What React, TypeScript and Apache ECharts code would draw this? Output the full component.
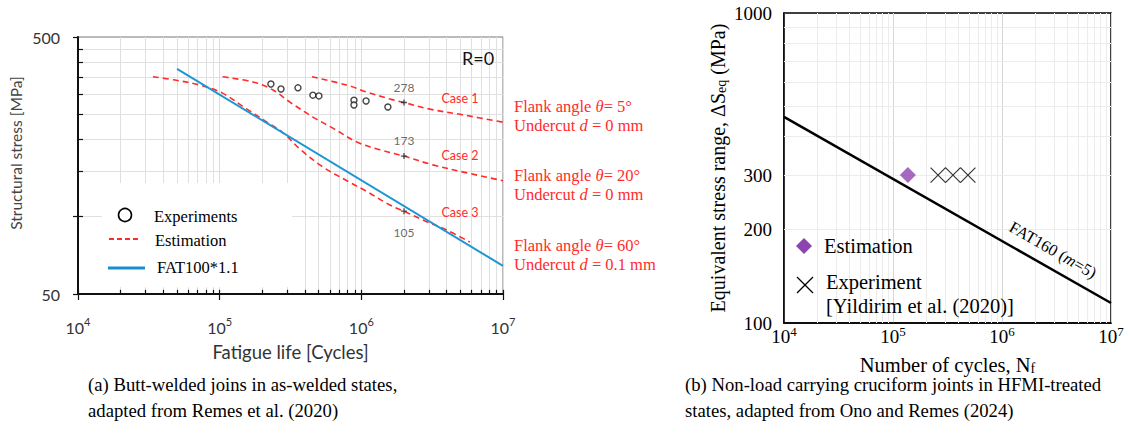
import React, { useEffect, useRef } from 'react';
import * as echarts from 'echarts';

// ---------- data (left panel: butt-welded joints) ----------
const case1: number[][] = [[4.48e5, 350], [7.9e5, 325], [1.1e6, 305], [1.59e6, 287], [2e6, 278], [3.05e6, 262], [5.2e6, 249], [1e7, 233]];
const case2: number[][] = [[1.05e5, 350], [1.72e5, 334], [2.38e5, 311], [3.13e5, 279], [4.55e5, 244], [6.3e5, 221], [9.3e5, 195], [1.35e6, 182], [2e6, 172], [3.2e6, 159], [5.56e6, 148], [1e7, 138]];
const case3: number[][] = [[3.38e4, 350], [4.84e4, 340], [7.26e4, 325], [1.04e5, 303], [1.51e5, 265], [2.09e5, 236], [2.8e5, 212], [3.69e5, 183], [5.36e5, 156], [7.9e5, 138], [1.1e6, 125], [1.59e6, 111], [2e6, 105], [2.72e6, 97], [4.0e6, 88.7], [5.84e6, 79.6]];
const fat110: number[][] = [[5e4, 376], [1e7, 64.3]];
const expN = [2.3e5, 2.71e5, 3.57e5, 4.55e5, 5.02e5, 8.87e5, 8.87e5, 1.08e6, 1.54e6];
const expS = [328, 314, 317, 297, 295, 284, 272, 282, 267];
const markN = [2e6, 2e6, 2e6];
const markS = [278, 172, 105];
const markLabels = ['278', '173', '105'];
const caseNames = ['Case 1', 'Case 2', 'Case 3'];
const leftXTicks = [1e4, 1e5, 1e6, 1e7];
const leftYLabels = [50, 500];
const leftHGrid = [100, 150, 200, 250, 300, 350, 400, 450];

// ---------- data (right panel: HFMI-treated cruciform joints) ----------
const fat160: number[][] = [[1e4, 462], [1e7, 116]];
const estimation: number[][] = [[1.37e5, 300]];
const experiment: number[][] = [[2.59e5, 300], [3.55e5, 300], [4.87e5, 300]];
const rightYLabels = [100, 200, 300, 1000];
const rightHGrid = [200, 300, 400, 500, 600, 700, 800, 900];

const decades = [1e4, 1e5, 1e6];
const minorMult = [2, 3, 4, 5, 6, 7, 8, 9];
const minorX: number[] = [];
decades.forEach((d) => minorMult.forEach((m) => minorX.push(d * m)));

const SERIF = '"Liberation Serif", "Times New Roman", serif';
const SANS = 'Lato, "Open Sans", sans-serif';
const RED = '#ff2b2b';
const BLUE = '#1f96d3';
const PURPLE = '#8e44b0';

export default function App() {
  const ref = useRef<HTMLDivElement>(null);
  useEffect(() => {
    if (!ref.current) return;
    const chart = echarts.init(ref.current, undefined, { renderer: 'svg' });

    const supRich = (family: string, size: number, supSize: number, lh: number, color: string) => ({
      b: { fontFamily: family, fontSize: size, color, lineHeight: lh },
      s: { fontFamily: family, fontSize: supSize, color, lineHeight: 10, verticalAlign: 'top' },
    });
    const powFmt = (v: number) => `{b|10}{s|${Math.round(Math.log10(v))}}`;

    const leftGridLines: any[] = [
      ...minorX.map((v) => ({ xAxis: v })),
      ...leftHGrid.map((v) => ({ yAxis: v })),
    ];
    const tickStyle = { color: '#111', width: 1.2, type: 'solid' };
    const leftTicks: any[] = [
      ...[...minorX, ...leftXTicks].map((v) => [
        { coord: [v, 50], lineStyle: tickStyle },
        { coord: [v, 51.9] },
      ]),
      ...leftHGrid.map((v) => [
        { coord: [1e4, v], lineStyle: tickStyle },
        { coord: [1.085e4, v] },
      ]),
    ];
    const rightGridLines: any[] = [
      ...minorX.map((v) => ({ xAxis: v })),
      ...rightHGrid.map((v) => ({ yAxis: v })),
    ];

    const serifText = (x: number, y: number, text: string, size: number, color = '#000', align = 'left', extra: any = {}) => ({
      type: 'text',
      x,
      y,
      z: 10,
      ...extra,
      style: {
        text,
        fill: color,
        fontFamily: SERIF,
        fontSize: size,
        align,
        verticalAlign: 'middle',
        rich: {
          i: { fontFamily: SERIF, fontSize: size, fontStyle: 'italic', fill: color, color },
        },
      },
    });
    const sansText = (x: number, y: number, text: string, size: number, color: string, align = 'center', extra: any = {}) => ({
      type: 'text',
      x,
      y,
      z: 10,
      ...extra,
      style: { text, fill: color, fontFamily: SANS, fontSize: size, align, verticalAlign: 'middle' },
    });

    const flankTexts = [
      ['Flank angle {i|θ}= 5°', 'Undercut {i|d} = 0 mm'],
      ['Flank angle {i|θ}= 20°', 'Undercut {i|d} = 0 mm'],
      ['Flank angle {i|θ}= 60°', 'Undercut {i|d} = 0.1 mm'],
    ];
    const flankY = [106, 175, 245];
    const caseY = [98, 155, 212];

    const graphic: any[] = [
      // left y-axis title
      sansText(16, 153, 'Structural stress [MPa]', 15.5, '#444', 'center', { rotation: Math.PI / 2 }),
      // left legend
      { type: 'rect', z: 3, shape: { x: 102, y: 183, width: 190, height: 104 }, style: { fill: '#fff' } },
      { type: 'circle', z: 10, shape: { cx: 125, cy: 215, r: 6.5 }, style: { fill: '#fff', stroke: '#000', lineWidth: 1.6 } },
      { type: 'line', z: 10, shape: { x1: 109, y1: 239, x2: 141, y2: 239 }, style: { stroke: RED, lineWidth: 2, lineDash: [5, 3] } },
      { type: 'line', z: 10, shape: { x1: 108, y1: 268, x2: 145, y2: 268 }, style: { stroke: '#1a8fd0', lineWidth: 3 } },
      serifText(154, 216, 'Experiments', 16.5),
      serifText(155, 240, 'Estimation', 16.5),
      serifText(157, 267, 'FAT100*1.1', 16.5),
      // right-side annotations of left panel
      ...flankTexts.flatMap((pair, i) => [
        serifText(514, flankY[i], pair[0], 16.5, RED),
        serifText(514, flankY[i] + 19, pair[1], 16.5, RED),
      ]),
      ...caseNames.map((c, i) => sansText(460, caseY[i], c, 12.5, RED)),
      sansText(478, 58, 'R=0', 18, '#111'),
      // captions
      serifText(88, 384, '(a) Butt-welded joins in as-welded states,', 18.7),
      serifText(88, 410, 'adapted from Remes et al. (2020)', 18.7),
      serifText(685, 384, '(b) Non-load carrying cruciform joints in HFMI-treated', 18.7),
      serifText(685, 410, 'states, adapted from Ono and Remes (2024)', 18.7),
      // right legend
      { type: 'polygon', z: 10, shape: { points: [[804, 238], [812, 246], [804, 254], [796, 246]] }, style: { fill: PURPLE } },
      { type: 'line', z: 10, shape: { x1: 797, y1: 277, x2: 813, y2: 293 }, style: { stroke: '#000', lineWidth: 1.2 } },
      { type: 'line', z: 10, shape: { x1: 813, y1: 277, x2: 797, y2: 293 }, style: { stroke: '#000', lineWidth: 1.2 } },
      serifText(824, 246, 'Estimation', 20.5),
      serifText(826, 282, 'Experiment', 20.5),
      serifText(826, 306, '[Yildirim et al. (2020)]', 20.5),
      // FAT160 label
      serifText(1053, 250, 'FAT160 ({i|m}=5)', 16.5, '#000', 'center', { rotation: -0.52 }),
    ];

    chart.setOption({
      animation: false,
      backgroundColor: '#fff',
      graphic,
      grid: [
        { left: 78, top: 37, width: 425, height: 257, show: true, borderColor: '#777', borderWidth: 1 },
        { left: 784, top: 13, width: 327, height: 310, show: true, borderColor: '#000', borderWidth: 1.5 },
      ],
      xAxis: [
        {
          type: 'log', logBase: 10, gridIndex: 0, min: 1e4, max: 1e7,
          axisLine: { lineStyle: { color: '#111', width: 2 } },
          axisTick: { show: true, length: 6, lineStyle: { color: '#111', width: 1.2 } },
          axisLabel: { margin: 22, formatter: powFmt, rich: supRich(SANS, 16, 11, 22, '#333') },
          splitLine: { show: true, lineStyle: { color: '#dcdcdc' } },
          name: 'Fatigue life [Cycles]', nameLocation: 'middle', nameGap: 48,
          nameTextStyle: { fontFamily: SANS, fontSize: 18.5, color: '#333' },
        },
        {
          type: 'log', logBase: 10, gridIndex: 1, min: 1e4, max: 1e7,
          axisLine: { lineStyle: { color: '#000', width: 1.5 } },
          axisTick: { show: false },
          axisLabel: { margin: 2, formatter: powFmt, rich: supRich(SERIF, 19, 13, 22, '#000') },
          splitLine: { show: true, lineStyle: { color: '#d6d6d6' } },
          name: 'Number of cycles, N{sub|f}', nameLocation: 'middle', nameGap: 31,
          nameTextStyle: {
            fontFamily: SERIF, fontSize: 20.5, color: '#000',
            rich: { sub: { fontFamily: SERIF, fontSize: 14, color: '#000', lineHeight: 10, verticalAlign: 'bottom' } },
          },
        },
      ],
      yAxis: [
        {
          type: 'log', logBase: 10, gridIndex: 0, min: 50, max: 500,
          axisLine: { show: true, lineStyle: { color: '#111', width: 2 } },
          axisTick: { show: true, length: 5, lineStyle: { color: '#111', width: 1.2 } },
          axisLabel: {
            margin: 18, fontFamily: SANS, fontSize: 16, color: '#333',
            formatter: (v: number) => (leftYLabels.includes(Math.round(v)) ? String(Math.round(v)) : ''),
          },
          splitLine: { show: false },
        },
        {
          type: 'log', logBase: 10, gridIndex: 1, min: 100, max: 1000,
          axisLine: { show: true, lineStyle: { color: '#000', width: 1.5 } },
          axisTick: { show: false },
          axisLabel: {
            margin: 12, fontFamily: SERIF, fontSize: 19, color: '#000',
            formatter: (v: number) => (rightYLabels.includes(Math.round(v)) ? String(Math.round(v)) : ''),
          },
          splitLine: { show: false },
          name: 'Equivalent stress range, ΔS{sub|eq} (MPa)', nameLocation: 'middle', nameGap: 56, nameRotate: 90,
          nameTextStyle: {
            fontFamily: SERIF, fontSize: 20, color: '#000',
            rich: { sub: { fontFamily: SERIF, fontSize: 14, color: '#000', lineHeight: 10, verticalAlign: 'bottom' } },
          },
        },
      ],
      series: [
        {
          name: 'left-grid', type: 'line', xAxisIndex: 0, yAxisIndex: 0, data: [], silent: true,
          markLine: {
            silent: true, z: 1, symbol: ['none', 'none'], label: { show: false },
            lineStyle: { color: '#e0e0e0', width: 1, type: 'solid' },
            data: [...leftGridLines, ...leftTicks],
          },
        },
        {
          name: 'right-grid', type: 'line', xAxisIndex: 1, yAxisIndex: 1, data: [], silent: true,
          markLine: {
            silent: true, z: 1, symbol: ['none', 'none'], label: { show: false },
            lineStyle: { color: '#ececec', width: 1, type: 'solid' },
            data: rightGridLines,
          },
          markPoint: {
            silent: true, symbol: 'circle', symbolSize: 0,
            label: { show: true, position: 'left', distance: 12, formatter: '{c}', fontFamily: SERIF, fontSize: 19, color: '#000' },
            data: rightYLabels.filter((v) => v !== 100 && v !== 1000).map((v) => ({ coord: [1e4, v], value: v })),
          },
        },
        ...[case1, case2, case3].map((d, i) => ({
          name: caseNames[i], type: 'line', xAxisIndex: 0, yAxisIndex: 0, data: d, smooth: 0.35,
          showSymbol: false, lineStyle: { color: RED, width: 1.6, type: [6, 4] }, z: 3,
        })),
        {
          name: 'FAT100*1.1', type: 'line', xAxisIndex: 0, yAxisIndex: 0, data: fat110,
          showSymbol: false, lineStyle: { color: BLUE, width: 2 }, z: 4,
        },
        {
          name: 'Experiments', type: 'scatter', xAxisIndex: 0, yAxisIndex: 0,
          data: expN.map((n, i) => [n, expS[i]]),
          symbol: 'circle', symbolSize: 6,
          itemStyle: { color: '#fff', borderColor: '#111', borderWidth: 1.4 }, z: 5,
        },
        {
          name: 'Case values', type: 'scatter', xAxisIndex: 0, yAxisIndex: 0,
          data: markN.map((n, i) => ({
            value: [n, markS[i]],
            label: { position: i === 2 ? 'bottom' : 'top', distance: i === 2 ? 10 : 4 },
          })),
          symbol: 'path://M5,0L5,10M0,5L10,5', symbolSize: 6,
          itemStyle: { color: 'none', borderColor: '#222', borderWidth: 1.3 }, z: 6,
          label: {
            show: true, fontFamily: SANS, fontSize: 12, color: '#444',
            formatter: (p: any) => markLabels[p.dataIndex],
          },
        },
        {
          name: 'FAT160', type: 'line', xAxisIndex: 1, yAxisIndex: 1, data: fat160,
          showSymbol: false, lineStyle: { color: '#000', width: 2.5 }, z: 4,
        },
        {
          name: 'Estimation', type: 'scatter', xAxisIndex: 1, yAxisIndex: 1, data: estimation,
          symbol: 'diamond', symbolSize: [16, 16], itemStyle: { color: PURPLE }, z: 5,
        },
        {
          name: 'Experiment', type: 'scatter', xAxisIndex: 1, yAxisIndex: 1, data: experiment,
          symbol: 'path://M0,0L10,10M10,0L0,10', symbolSize: 15,
          itemStyle: { color: 'none', borderColor: '#000', borderWidth: 1.2 }, z: 5,
        },
      ],
    });
    return () => chart.dispose();
  }, []);

  return (
    <div
      ref={ref}
      style={{ position: 'fixed', left: 0, top: 0, width: 1130, height: 438, background: '#fff' }}
    />
  );
}
